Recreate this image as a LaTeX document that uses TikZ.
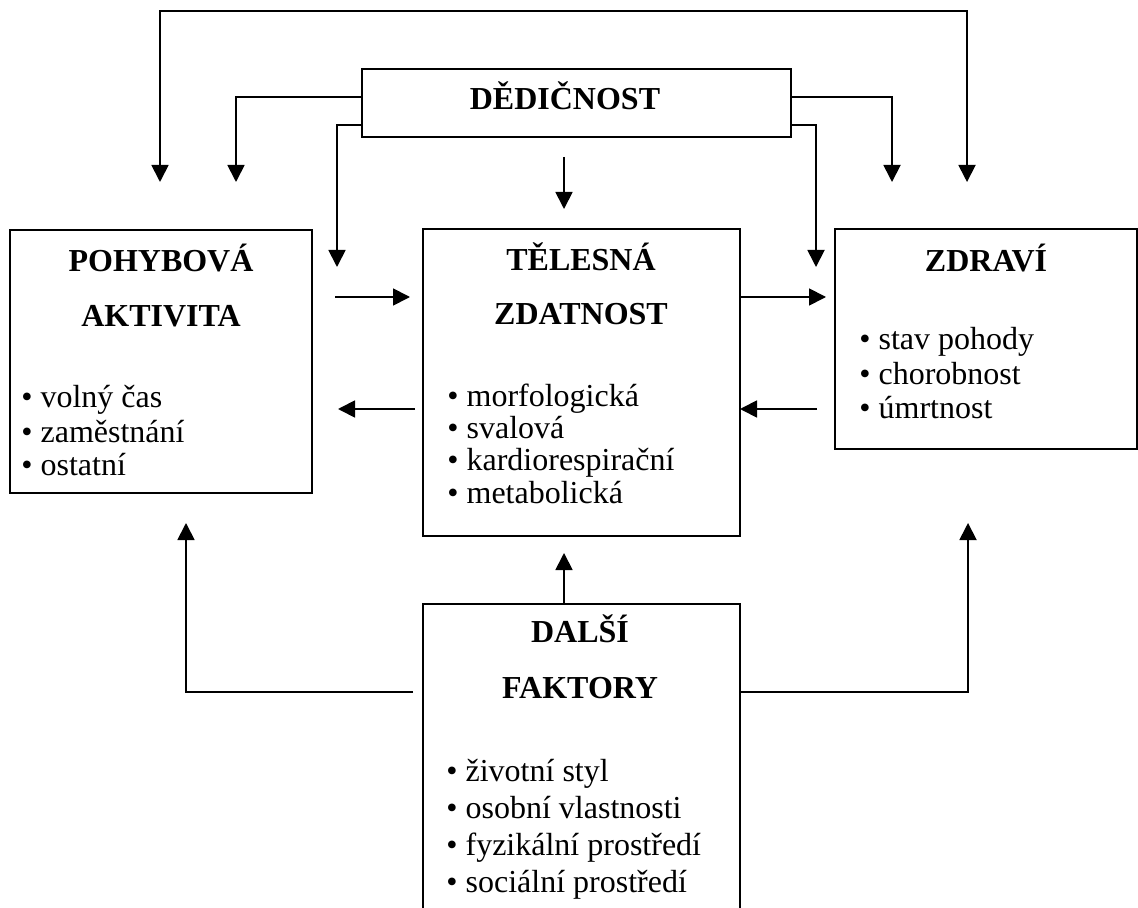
\documentclass[tikz,border=0pt]{standalone}
\usepackage{fontspec}
\setmainfont{Liberation Serif}
\usetikzlibrary{arrows.meta}
\begin{document}
\begin{tikzpicture}[x=0.5pt,y=-0.5pt,
    box/.style={draw,line width=0.9pt,inner sep=0pt,outer sep=0pt},
    title/.style={font=\fontsize{16}{16}\selectfont\bfseries,anchor=base,inner sep=0pt},
    item/.style={font=\fontsize{16}{16}\selectfont,anchor=base west,inner sep=0pt},
    arr/.style={line width=0.9pt,-{Triangle[length=8.5pt,width=8.5pt]}},
    arrs/.style={line width=0.9pt,{Triangle[length=8.5pt,width=8.5pt]}-{Triangle[length=8.5pt,width=8.5pt]}}]
      \useasboundingbox (0,0) rectangle (1138,908);
      \node[box,minimum width=214.5pt,minimum height=34pt] (ded) at (576.5,103) {};
      \node[box,minimum width=151pt,minimum height=131.5pt] (pa) at (161,361.5) {};
      \node[box,minimum width=158.5pt,minimum height=153.5pt] (tz) at (581.5,382.5) {};
      \node[box,minimum width=151pt,minimum height=110pt] (zd) at (986,339) {};
      \node[box,minimum width=158.5pt,minimum height=158pt] (df) at (581.5,762) {};
      \draw
        (565,110) node[title] (dedT){DĚDIČNOST}
        (161,272) node[title] (paT1){POHYBOVÁ}
        (161,327) node[title] (paT2){AKTIVITA}
        (581,271) node[title] (tzT1){TĚLESNÁ}
        (581,325) node[title] (tzT2){ZDATNOST}
        (986,272) node[title] (zdT){ZDRAVÍ}
        (580,642) node[title] (dfT1){DALŠÍ}
        (580,698) node[title] (dfT2){FAKTORY};
      \draw
        (21,408) node[item] (pa1){• volný čas}
        (21,442) node[item] (pa2){• zaměstnání}
        (21,475) node[item] (pa3){• ostatní}
        (447,407) node[item] (tz1){• morfologická}
        (447,438) node[item] (tz2){• svalová}
        (447,470) node[item] (tz3){• kardiorespirační}
        (447,503) node[item] (tz4){• metabolická}
        (859,350) node[item] (zd1){• stav pohody}
        (859,385) node[item] (zd2){• chorobnost}
        (859,418) node[item] (zd3){• úmrtnost}
        (446,781) node[item] (df1){• životní styl}
        (446,818) node[item] (df2){• osobní vlastnosti}
        (446,855) node[item] (df3){• fyzikální prostředí}
        (446,892) node[item] (df4){• sociální prostředí};
      % free ends of the connectors
      \coordinate (lpA) at (160,182);
      \coordinate (lpB) at (967,182);
      \coordinate (hA) at (236,182);
      \coordinate (hB) at (892,182);
      \coordinate (hC) at (337,267);
      \coordinate (hD) at (816,267);
      \coordinate (hE) at (564,157);
      \coordinate (hF) at (564,209);
      \coordinate (pt1) at (335,297);
      \coordinate (pt2) at (410,297);
      \coordinate (tp1) at (415,409);
      \coordinate (tp2) at (338,409);
      \coordinate (zdA) at (826,297);
      \coordinate (zt1) at (817,409);
      \coordinate (dfA) at (564,553);
      \coordinate (dfL) at (413,692);
      \coordinate (dfLt) at (186,523);
      \coordinate (dfRt) at (968,523);
      \begin{scope}[arr]
        \draw[arrs] (lpA) -- ++(0,-171) -| (lpB);
        \draw (ded.west) ++(0,-6) -| (hA);
        \draw (ded.east) ++(0,-6) -| (hB);
        \draw (ded.west) ++(0,22) -| (hC);
        \draw (ded.east) ++(0,22) -| (hD);
        \draw (hE) -- (hF);
        \draw (pt1) -- (pt2);
        \draw (tp1) -- (tp2);
        \draw (tz.east |- pt1) -- (zdA);
        \draw (zt1) -- (tz.east |- zt1);
        \draw (df.north -| hE) -- (dfA);
        \draw (dfL) -| (dfLt);
        \draw (df.east |- dfL) -| (dfRt);
      \end{scope}
    \end{tikzpicture}
\end{document}
